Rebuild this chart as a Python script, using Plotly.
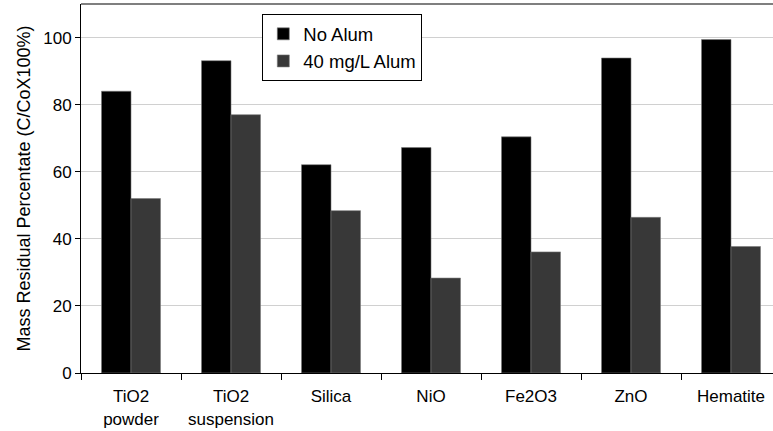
import plotly.graph_objects as go

# Categories and measured residual percentages
materials = ["TiO2<br>powder", "TiO2<br>suspension", "Silica", "NiO", "Fe2O3", "ZnO", "Hematite"]
no_alum = [84.0, 93.1, 62.1, 67.2, 70.4, 93.9, 99.4]
alum_40 = [52.0, 77.0, 48.4, 28.3, 36.1, 46.4, 37.7]
y_ticks = [0, 20, 40, 60, 80, 100]

FONT = "Arial, Liberation Sans, sans-serif"

fig = go.Figure()
fig.add_trace(go.Bar(
    x=materials, y=no_alum, name="No Alum",
    marker=dict(color="#000000", line=dict(color="#7a7a7a", width=0.6)),
))
fig.add_trace(go.Bar(
    x=materials, y=alum_40, name="40 mg/L Alum",
    marker=dict(color="#383838", line=dict(color="#7a7a7a", width=0.6)),
))

# Gray frame line along the top of the plotting area
fig.add_shape(type="line", xref="paper", yref="paper", x0=0, x1=1, y0=1, y1=1,
              line=dict(color="#7f7f7f", width=2))

fig.update_layout(
    width=773, height=431,
    margin=dict(l=81, r=0, t=4, b=58),
    paper_bgcolor="white", plot_bgcolor="white",
    barmode="group", bargap=0.41, bargroupgap=0,
    font=dict(family=FONT, color="#000000"),
    showlegend=True,
    legend=dict(
        x=0.262, y=0.972, xanchor="left", yanchor="top",
        bgcolor="white", bordercolor="#000000", borderwidth=1,
        font=dict(size=18.5, family=FONT),
        tracegroupgap=0,
    ),
)
fig.update_xaxes(
    range=[-0.5, 6.42],
    showline=True, linecolor="#000000", linewidth=1,
    ticks="outside", tickson="boundaries", ticklen=6, tickcolor="#000000",
    tickfont=dict(size=17, family=FONT),
    ticklabelstandoff=8,
    showgrid=False, zeroline=False,
)
fig.update_yaxes(
    range=[0, 110],
    tickvals=y_ticks,
    showline=True, linecolor="#000000", linewidth=1,
    ticks="outside", ticklen=5, tickcolor="#000000",
    tickfont=dict(size=17, family=FONT),
    showgrid=True, gridcolor="#d0d0d0", gridwidth=1,
    zeroline=False,
    title=dict(text="Mass Residual Percentate (C/CoX100%)",
               font=dict(size=18, family=FONT), standoff=7),
    automargin=False,
)

fig.write_html("out.html")
